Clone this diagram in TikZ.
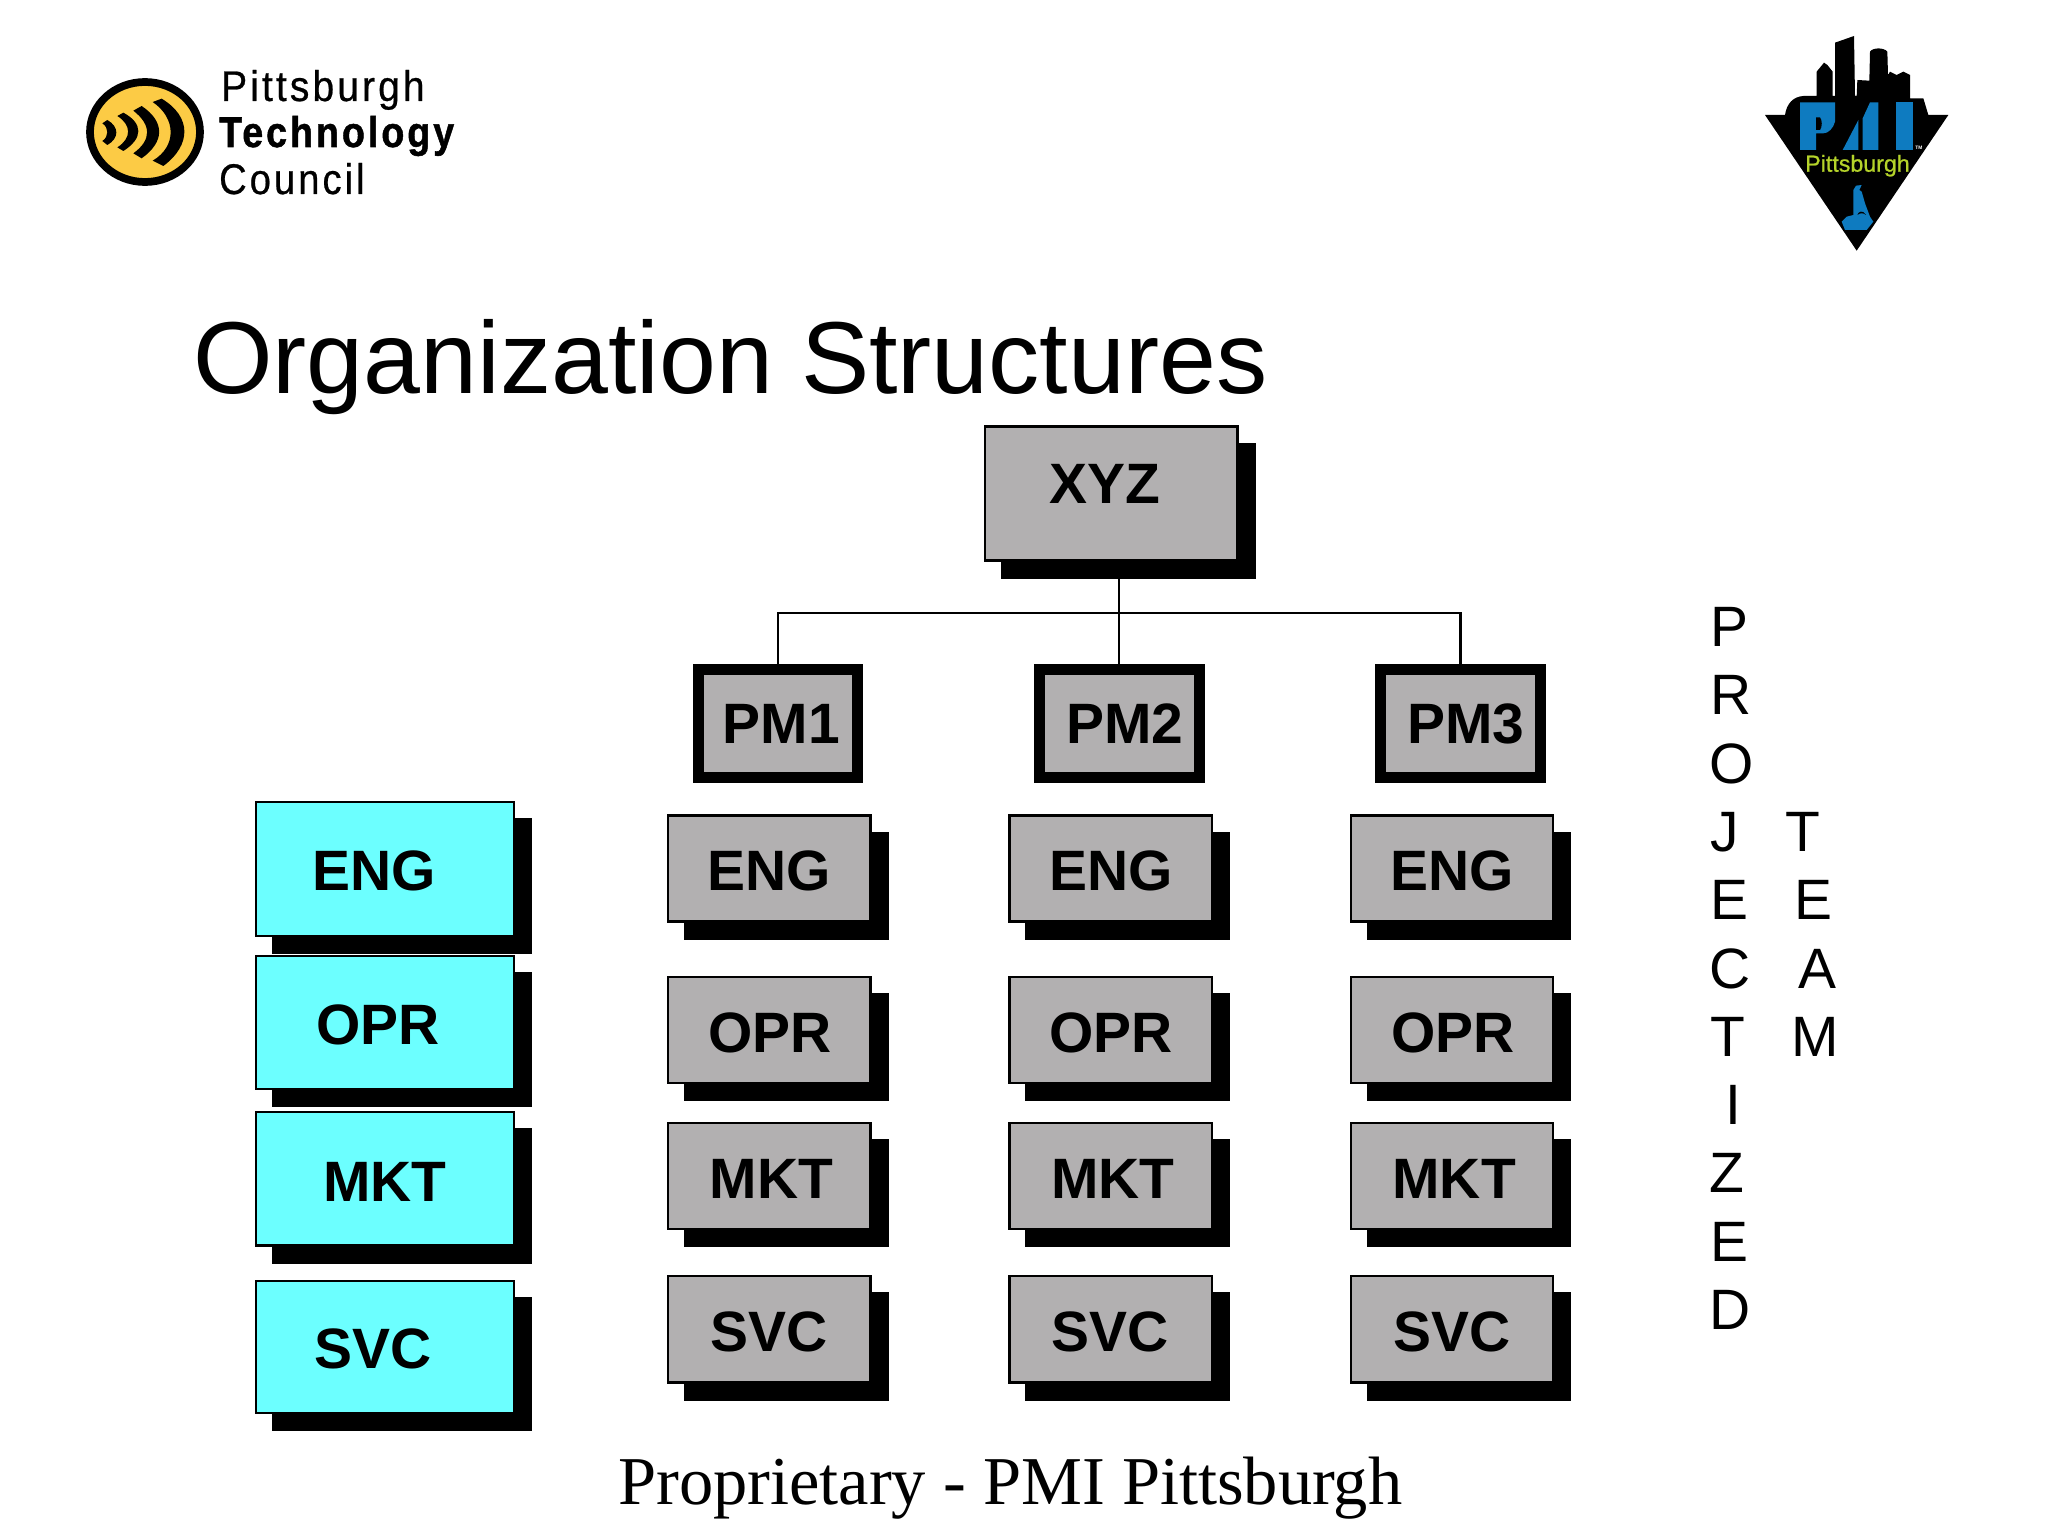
\documentclass[tikz,border=0pt]{standalone}
\usepackage{graphicx}
\usepackage{fontspec}
\setmainfont{Liberation Sans}
\newfontfamily\footfont{Liberation Serif}
\newfontfamily\logofont[LetterSpace=8,FakeBold=0.6]{Liberation Sans}
\newfontfamily\logoboldfont[LetterSpace=8,FakeBold=1.2]{Liberation Sans Bold}
\newfontfamily\pmifont[FakeBold=0.8]{Liberation Sans}
\definecolor{boxgray}{HTML}{B2B0B1}
\definecolor{boxcyan}{HTML}{6CFFFF}
\definecolor{logoyellow}{HTML}{FCCB45}
\definecolor{pmiblue}{HTML}{0E7BC0}
\definecolor{pmigreen}{HTML}{B5D32A}
\tikzset{
  x=0.05cm,y=-0.05cm,
  facebox/.style={draw=black,line width=3.3pt,rectangle,inner sep=0pt,outer sep=0pt},
  darkbox/.style={fill=black,rectangle,inner sep=0pt,outer sep=0pt},
  boxlabel/.style={font=\fontsize{81}{81}\selectfont\bfseries,inner sep=0pt,text=black},
  sideletter/.style={font=\fontsize{81}{81}\selectfont,inner sep=0pt,anchor=base,text=black},
  logotext/.style={inner sep=0pt,anchor=base west,text=black},
  wire/.style={draw=black,line width=3.5pt},
}
% name, x1, y1, x2, y2, fill, text, tx, ty
\newcommand{\orgbox}[9]{%
  \node[darkbox,minimum width={((#4)-(#2))*0.05cm},minimum height={((#5)-(#3))*0.05cm}] (#1s) at ({((#2)+(#4))/2+17},{((#3)+(#5))/2+17}) {};
  \node[facebox,fill=#6,minimum width={((#4)-(#2)-2.3)*0.05cm},minimum height={((#5)-(#3)-2.3)*0.05cm}] (#1) at ({((#2)+(#4))/2},{((#3)+(#5))/2}) {};
  \node[boxlabel] (#1t) at ({#8},{#9}) {#7};
}
% name, x1, x2, text x
\newcommand{\pmbox}[4]{%
  \node[darkbox,minimum width={((#3)-(#2))*0.05cm},minimum height=5.965cm] (#1) at ({((#2)+(#3))/2},723.65) {};
  \node[rectangle,fill=boxgray,inner sep=0pt,minimum width={((#3)-(#2)-22)*0.05cm},minimum height=4.85cm] (#1i) at ({((#2)+(#3))/2},723.8) {};
  \node[boxlabel] (#1t) at (#4,724) {#1};
}
\begin{document}
\begin{tikzpicture}
\useasboundingbox (0,0) rectangle (2048,1536);
\fill[white] (0,0) rectangle (2048,1536);
% left logo
\begin{scope}[shift={(60,40)},x=0.05cm/3,y=-0.05cm/3]
\draw[draw=black,line width=11pt,fill=logoyellow] (255,276) ellipse [x radius=165,y radius=150];
\fill[black] (127,250) -- (142,240) .. controls (178,260) and (178,295) .. (142,315) -- (127,303) .. controls (147,290) and (147,263) .. (127,250) -- cycle;
\fill[black] (172,228) -- (190,218) .. controls (250,250) and (250,295) .. (190,333) -- (172,322) .. controls (215,295) and (215,255) .. (172,228) -- cycle;
\fill[black] (220,212) -- (245,198) .. controls (315,245) and (315,305) .. (245,355) -- (220,340) .. controls (275,300) and (275,255) .. (220,212) -- cycle;
\fill[black] (278,186) -- (305,176) .. controls (395,230) and (395,315) .. (310,378) -- (278,362) .. controls (350,320) and (350,235) .. (278,186) -- cycle;
\end{scope}
\node[logotext,font=\logofont\fontsize{61}{61}\selectfont] (ptc1) at (221,101) {\scalebox{.909}[1]{Pittsburgh}};
\node[logotext,font=\logoboldfont\fontsize{61}{61}\selectfont] (ptc2) at (219,147) {\scalebox{.876}[1]{Technology}};
\node[logotext,font=\logofont\fontsize{61}{61}\selectfont] (ptc3) at (219,194) {\scalebox{.89}[1]{Council}};
% right logo
\begin{scope}[shift={(1740,20)},x=0.05cm/3,y=-0.05cm/3]
\fill[black] (75,285) -- (135,285) .. controls (140,250) and (160,230) .. (190,228) -- (230,228) -- (230,155) -- (252,128) -- (262,135) -- (278,155) -- (278,228) -- (285,228) -- (285,68) -- (342,48) -- (345,228) -- (350,228) -- (352,180) -- (388,182) -- (390,95) .. controls (398,82) and (432,82) .. (442,95) -- (444,165) -- (450,155) -- (470,165) -- (490,155) -- (510,165) -- (510,235) -- (550,235) -- (565,285) -- (625,285) -- (350,692) -- cycle;
\fill[pmiblue] (180,247) -- (285,247) -- (285,305) .. controls (280,325) and (265,340) .. (250,340) -- (228,340) -- (228,390) -- (180,390) -- cycle;
\fill[black] (228,292) -- (240,292) .. controls (247,300) and (247,322) .. (240,330) -- (228,330) -- cycle;
\fill[pmiblue] (308,390) -- (355,390) -- (355,300) -- cycle;
\fill[pmiblue] (368,390) -- (415,390) -- (415,247) -- (390,247) -- (368,295) -- cycle;
\fill[pmiblue] (468,247) rectangle (520,390);
\fill[pmiblue] (348,497) -- (365,495) -- (358,510) -- (365,515) -- (375,550) -- (390,590) -- (400,605) -- (380,630) -- (315,630) -- (305,605) -- (320,590) -- (340,585) -- (340,510) -- cycle;
\fill[black] (352,585) .. controls (355,575) and (368,568) .. (378,585) .. controls (370,578) and (360,578) .. (352,585) -- cycle;
\end{scope}
\node[inner sep=0pt,anchor=base,font=\pmifont\fontsize{33}{33}\selectfont,text=pmigreen] (pmicity) at (1857.5,171.7) {Pittsburgh};
\node[inner sep=0pt,font=\fontsize{7}{7}\selectfont\bfseries,text=white] (pmitm) at (1919,148) {TM};
% title and footer
\node[inner sep=0pt,anchor=base west,font=\fontsize{145.5}{145.5}\selectfont] (title) at (193,393) {Organization Structures};
\node[inner sep=0pt,anchor=base west,font=\footfont\fontsize{97.4}{97.4}\selectfont] (foot) at (618,1504) {Proprietary - PMI Pittsburgh};
% top box
\orgbox{xyz}{983.5}{425.5}{1238.5}{561.7}{boxgray}{XYZ}{1105}{484}
% project managers
\pmbox{PM1}{693}{863}{781.5}
\pmbox{PM2}{1034}{1204.5}{1125}
\pmbox{PM3}{1375}{1545.5}{1466}
% connectors
\coordinate (busrail) at (1119,612.8);
\draw[wire] (PM2.north) -- (PM2.north |- xyzs.south);
\draw[wire] (PM1.north) |- (busrail) -| (PM3.north);
% functional (cyan) column
\orgbox{engf}{255}{801}{515}{937}{boxcyan}{ENG}{374}{871}
\orgbox{oprf}{255}{954.5}{515}{1090}{boxcyan}{OPR}{378}{1024.5}
\orgbox{mktf}{255}{1111}{515}{1246.5}{boxcyan}{MKT}{385}{1182}
\orgbox{svcf}{255}{1279.5}{515}{1414}{boxcyan}{SVC}{373.5}{1349}
% project columns
\foreach \c/\dx in {1/0,2/341.3,3/682.7}{
  \orgbox{eng\c}{667+\dx}{814.5}{871.7+\dx}{922.7}{boxgray}{ENG}{769.5+\dx}{871}
  \orgbox{opr\c}{667+\dx}{975.7}{871.7+\dx}{1084}{boxgray}{OPR}{770+\dx}{1033}
  \orgbox{mkt\c}{667+\dx}{1121.7}{871.7+\dx}{1230}{boxgray}{MKT}{771.5+\dx}{1179}
  \orgbox{svc\c}{667+\dx}{1275}{871.7+\dx}{1383.7}{boxgray}{SVC}{769+\dx}{1332}
}
% side text
\foreach \n/\ch/\px [count=\k from 0] in {a/P/1729,b/R/1731,c/O/1732,d/J/1725,e/E/1729,f/C/1730,g/T/1728,h/I/1733,i/Z/1727,j/E/1729,k/D/1730}{
  \node[sideletter] (proj\n) at (\px,{646.5+68.3*\k}) {\ch};
}
\foreach \n/\ch/\px [count=\k from 3] in {a/T/1803,b/E/1813,c/A/1817,d/M/1815}{
  \node[sideletter] (team\n) at (\px,{646.5+68.3*\k}) {\ch};
}
\end{tikzpicture}
\end{document}
